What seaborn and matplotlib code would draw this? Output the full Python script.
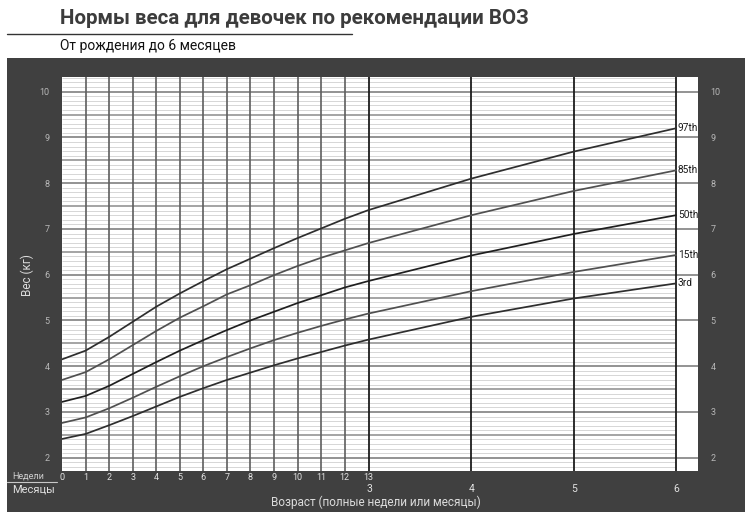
import numpy as np
import pandas as pd
import matplotlib
matplotlib.use("Agg")
import matplotlib.pyplot as plt
import seaborn as sns
from matplotlib.lines import Line2D

# ---------------- data ----------------
title = "Нормы веса для девочек по рекомендации ВОЗ"
subtitle = "От рождения до 6 месяцев"
x_label = "Возраст (полные недели или месяцы)"
y_label = "Вес (кг)"
weeks_label = "Недели"
months_label = "Месяцы"

weeks = list(range(14))            # 0..13 weeks
months = [4, 5, 6]                 # monthly points after 13 weeks
month_ticks = [3, 4, 5, 6]
weeks_per_month = 4.345
y_ticks = [2, 3, 4, 5, 6, 7, 8, 9, 10]

percentiles = ["97th", "85th", "50th", "15th", "3rd"]
p97_weeks = [4.15, 4.34, 4.64, 4.97, 5.30, 5.59, 5.86, 6.12, 6.35, 6.58, 6.80, 7.01, 7.22, 7.41]
p85_weeks = [3.70, 3.87, 4.15, 4.46, 4.77, 5.06, 5.31, 5.57, 5.77, 5.99, 6.19, 6.37, 6.53, 6.69]
p50_weeks = [3.22, 3.35, 3.57, 3.83, 4.09, 4.34, 4.57, 4.79, 5.00, 5.19, 5.38, 5.55, 5.72, 5.86]
p15_weeks = [2.76, 2.88, 3.08, 3.31, 3.55, 3.78, 4.00, 4.20, 4.39, 4.57, 4.73, 4.88, 5.02, 5.15]
p3_weeks = [2.41, 2.52, 2.71, 2.91, 3.12, 3.33, 3.52, 3.70, 3.86, 4.02, 4.17, 4.31, 4.45, 4.58]
p97_months = [8.10, 8.69, 9.20]
p85_months = [7.30, 7.83, 8.28]
p50_months = [6.42, 6.89, 7.30]
p15_months = [5.64, 6.06, 6.43]
p3_months = [5.08, 5.48, 5.81]

series_weeks = [p97_weeks, p85_weeks, p50_weeks, p15_weeks, p3_weeks]
series_months = [p97_months, p85_months, p50_months, p15_months, p3_months]

rows = []
for name, wv, mv in zip(percentiles, series_weeks, series_months):
    for w, v in zip(weeks, wv):
        rows.append({"x": w, "weight": v, "percentile": name})
    for m, v in zip(months, mv):
        rows.append({"x": m * weeks_per_month, "weight": v, "percentile": name})
df = pd.DataFrame(rows)

# ---------------- style ----------------
sns.set_style("white")
plt.rcParams["font.family"] = ["Roboto", "DejaVu Sans"]

W, H = 750, 512
fig = plt.figure(figsize=(W / 100, H / 100), dpi=100)
fig.patch.set_facecolor("white")

# dark panel (background axes)
bg = fig.add_axes([7 / W, 0, (745 - 7) / W, (H - 58) / H], zorder=-5)
bg.set_facecolor("#404040")
bg.set_xticks([])
bg.set_yticks([])
for s in bg.spines.values():
    s.set_visible(False)

ax = fig.add_axes([62 / W, (H - 471) / H, (698 - 62) / W, (471 - 77) / H], zorder=1)
ax.set_facecolor("white")

x_m6 = 6 * weeks_per_month
x_max = 27.0
y_min, y_max = 1.71, 10.32
ax.set_xlim(0, x_max)
ax.set_ylim(y_min, y_max)

# horizontal grid
fine = [v / 10 for v in range(18, 104)]
minor_vals = [v for v in fine if abs(v * 2 - round(v * 2)) > 1e-6]
half_vals = [v + 0.5 for v in range(1, 10)]
ax.hlines(minor_vals, 0, x_m6, color="#d6d6d6", lw=0.7, zorder=1)
ax.hlines(half_vals, 0, x_m6, color="#959595", lw=1.2, zorder=1.5)
ax.hlines(y_ticks, 0, x_max, color="#8a8a8a", lw=1.3, zorder=1.5)

# vertical grid
ax.vlines(weeks[1:-1], y_min, y_max, color="#5e5e5e", lw=1.2, zorder=2)
ax.vlines([m * weeks_per_month for m in month_ticks], y_min, y_max,
          color="#1c1c1c", lw=1.3, zorder=2)

palette = {"97th": "#2e2e2e", "85th": "#505050", "50th": "#1f1f1f",
           "15th": "#505050", "3rd": "#2e2e2e"}
sns.lineplot(data=df, x="x", y="weight", hue="percentile", palette=palette,
             linewidth=1.25, legend=False, ax=ax, zorder=3)

for name, mv in zip(percentiles, series_months):
    ax.text(x_m6 + 0.08, mv[-1], name, fontsize=7.3, color="#1a1a1a",
            ha="left", va="center", zorder=4)

for s in ax.spines.values():
    s.set_visible(False)

ax.set_yticks(y_ticks)
ax.set_yticklabels([str(v) for v in y_ticks])
ax.tick_params(axis="y", length=0, labelsize=6.5, labelcolor="#b8b8b8",
               pad=9, labelleft=True, labelright=True, left=False, right=False)

ax.set_xticks(weeks)
ax.set_xticklabels([str(w) for w in weeks])
ax.set_xticks([m * weeks_per_month for m in month_ticks], minor=True)
ax.set_xticklabels([str(m) for m in month_ticks], minor=True)
ax.tick_params(axis="x", which="major", length=0, labelsize=6.5,
               labelcolor="#e2e2e2", pad=1.5)
ax.tick_params(axis="x", which="minor", length=0, labelsize=7.5,
               labelcolor="#e2e2e2", pad=9.5)
ax.set_xlabel("")
ax.set_ylabel("")

# texts
fig.text(60 / W, 1 - 18 / H, title, fontsize=14.8, fontweight="bold",
         color="#3c3c3c", ha="left", va="center")
fig.add_artist(Line2D([7 / W, 352 / W], [1 - 34 / H, 1 - 34 / H],
                      transform=fig.transFigure, color="#333333", lw=1.0))
fig.text(60 / W, 1 - 46 / H, subtitle, fontsize=10, color="#111111",
         ha="left", va="center")

fig.text(376 / W, 1 - 502 / H, x_label, fontsize=8.5, color="#dcdcdc",
         ha="center", va="center")
fig.text(27 / W, 1 - 275 / H, y_label, fontsize=8.5, color="#dcdcdc",
         ha="center", va="center", rotation=90)
fig.text(12 / W, 1 - 476 / H, weeks_label, fontsize=6.5, color="#d0d0d0",
         ha="left", va="center")
fig.add_artist(Line2D([7 / W, 57 / W], [1 - 481.5 / H, 1 - 481.5 / H],
                      transform=fig.transFigure, color="#c8c8c8", lw=0.8))
fig.text(12 / W, 1 - 489.5 / H, months_label, fontsize=8, color="#e0e0e0",
         ha="left", va="center")

fig.savefig("out.png", dpi=100)
